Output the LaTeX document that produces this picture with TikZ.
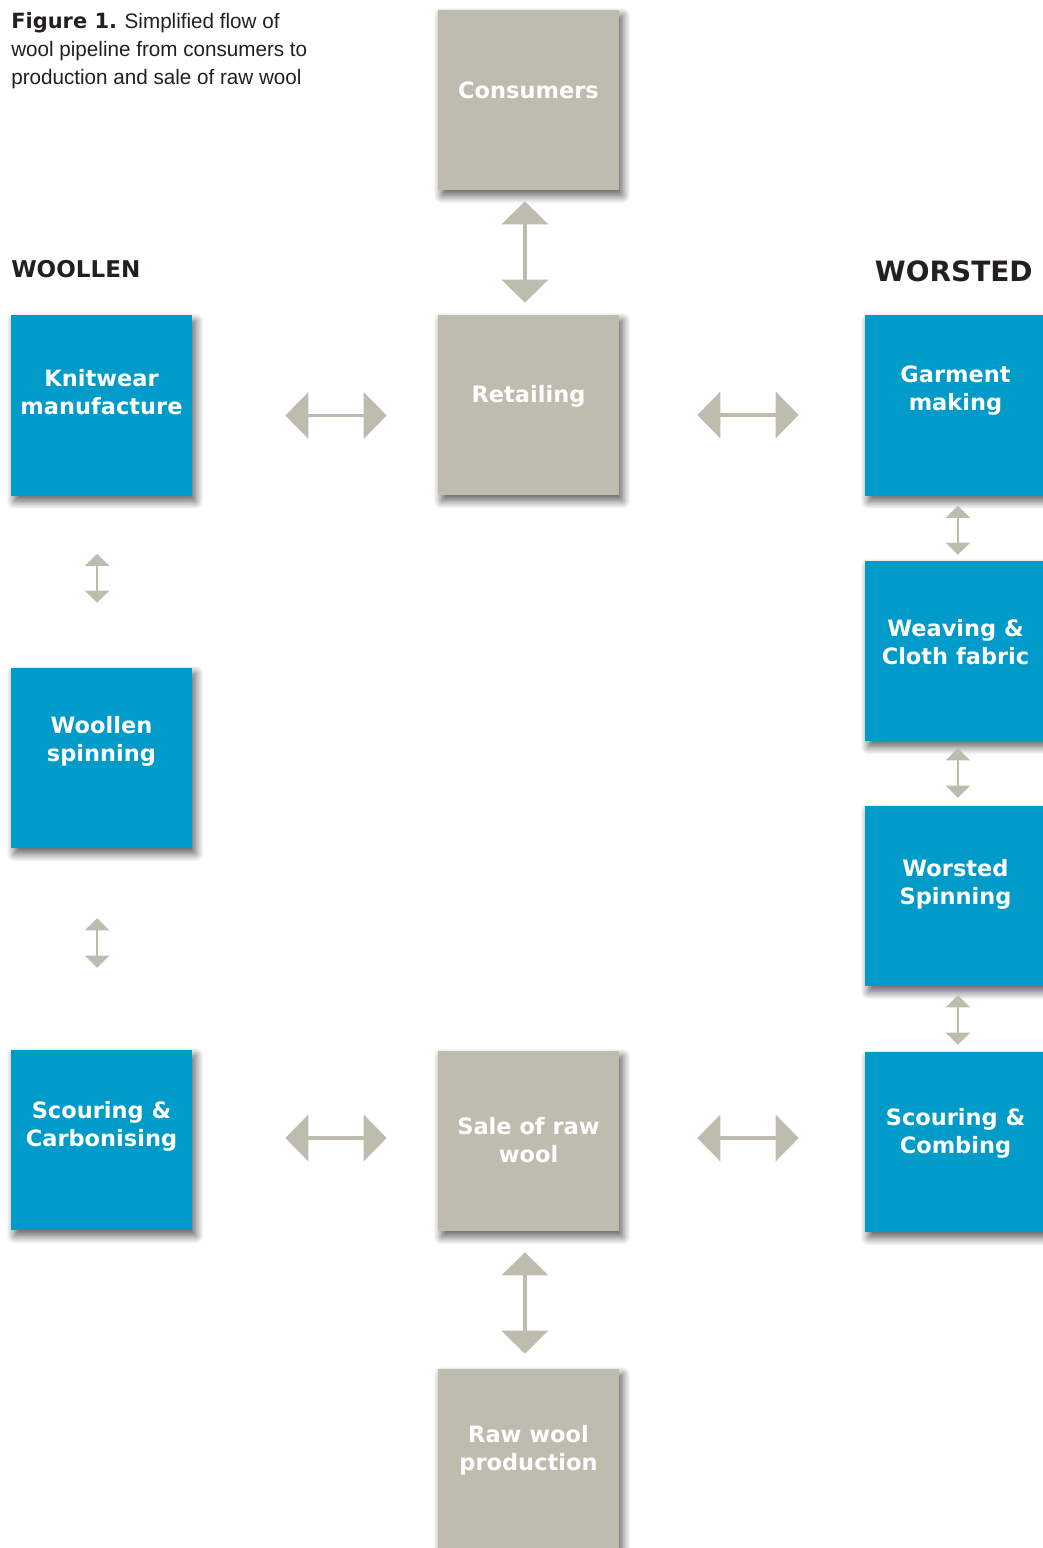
\documentclass[tikz,border=0pt]{standalone}
\usepackage{fontspec}
\usetikzlibrary{arrows.meta,shadows.blur}
\setmainfont{Liberation Sans}[FakeStretch=0.985]
\newfontfamily\heavyfont{DejaVu Sans}

\definecolor{boxgrey}{HTML}{BEBCAF}
\definecolor{boxblue}{HTML}{009BC8}
\definecolor{inkdark}{HTML}{231F20}

\tikzset{
  stage/.style={minimum width=4.525cm, minimum height=4.5cm, inner sep=0pt,
    blur shadow={shadow xshift=0.09cm, shadow yshift=-0.14cm,
      shadow blur radius=0.2cm, shadow blur steps=12, shadow opacity=65}},
  greystage/.style={stage, fill=boxgrey},
  bluestage/.style={stage, fill=boxblue},
  stagetext/.style={align=center, text=white, inner sep=0pt,
    font=\heavyfont\bfseries\fontsize{16}{19.9}\selectfont},
  bigarrow/.style={draw=boxgrey, line width=0.1cm,
    {Triangle[width=1.15cm,length=0.575cm]}-{Triangle[width=1.15cm,length=0.575cm]}},
  sidearrow/.style={draw=boxgrey, line width=0.09cm,
    {Triangle[width=1.15cm,length=0.575cm]}-{Triangle[width=1.15cm,length=0.575cm]}},
  smallarrow/.style={draw=boxgrey, line width=0.06cm,
    {Triangle[width=0.6cm,length=0.3cm]}-{Triangle[width=0.6cm,length=0.3cm]}}
}

\begin{document}
\begin{tikzpicture}[x=0.025cm, y=-0.025cm]

\useasboundingbox (0,0) rectangle (1043,1548); % page

% Caption and column headings
\node[anchor=north west, align=left, inner sep=0pt, text=inkdark,
  font=\fontsize{14.9}{19.9}\selectfont] (caption) at (11,12)
  {{\heavyfont\bfseries Figure 1.} Simplified flow of\\wool pipeline from consumers to\\production and sale of raw wool};
\node[anchor=base west, inner sep=0pt, text=inkdark,
  font=\heavyfont\bfseries\fontsize{16.4}{20}\selectfont] (woollen) at (11,277) {WOOLLEN};
\node[anchor=base east, inner sep=0pt, text=inkdark,
  font=\heavyfont\bfseries\fontsize{19.9}{24}\selectfont] (worsted) at (1033,281) {WORSTED};

% Middle column - trade
\node[greystage, label={[stagetext, yshift=0.25cm]center:Consumers}] (cons) at (528.5,100) {};
\node[greystage, label={[stagetext, yshift=0.225cm]center:Retailing}] (retail) at (528.5,405) {};
\node[greystage, label={[stagetext, yshift=0.03cm]center:{Sale of raw\\wool}}] (sale) at (528.5,1141) {};
\node[greystage, label={[stagetext, yshift=0.225cm]center:{Raw wool\\production}}] (raw) at (528.5,1459) {};

% Left column - woollen
\node[bluestage, label={[stagetext, yshift=0.33cm]center:{Knitwear\\manufacture}}] (knit) at (101.5,405.5) {};
\node[bluestage, label={[stagetext, yshift=0.42cm]center:{Woollen\\spinning}}] (wspin) at (101.5,758) {};
\node[bluestage, label={[stagetext, yshift=0.35cm]center:{Scouring \&\\Carbonising}}] (carb) at (101.5,1140) {};

% Right column - worsted
\node[bluestage, label={[stagetext, yshift=0.38cm]center:{Garment\\making}}] (garm) at (955.5,405.5) {};
\node[bluestage, label={[stagetext, yshift=0.22cm]center:{Weaving \&\\Cloth fabric}}] (weave) at (955.5,651) {};
\node[bluestage, label={[stagetext, yshift=0.28cm]center:{Worsted\\Spinning}}] (worst) at (955.5,896) {};
\node[bluestage, label={[stagetext, yshift=0.22cm]center:{Scouring \&\\Combing}}] (comb) at (955.5,1142) {};

% Vertical links in the middle
\draw[bigarrow, shorten <=0.275cm, shorten >=0.3cm]
  ([xshift=-0.09cm]cons.south) -- ([xshift=-0.09cm]retail.north);
\draw[bigarrow, shorten <=0.525cm, shorten >=0.375cm]
  ([xshift=-0.09cm]sale.south) -- ([xshift=-0.09cm]raw.north);

% Horizontal links
\draw[sidearrow, shorten <=2.325cm, shorten >=1.275cm]
  ([yshift=-0.25cm]knit.east) -- ([yshift=-0.25cm]knit.east -| retail.west);
\draw[sidearrow, shorten <=1.95cm, shorten >=1.65cm]
  ([yshift=-0.25cm]retail.east) -- ([yshift=-0.25cm]retail.east -| garm.west);
\draw[sidearrow, shorten <=2.325cm, shorten >=1.275cm]
  ([yshift=0.05cm]carb.east) -- ([yshift=0.05cm]carb.east -| sale.west);
\draw[sidearrow, shorten <=1.95cm, shorten >=1.65cm]
  ([yshift=0.075cm]sale.east) -- ([yshift=0.075cm]sale.east -| comb.west);

% Small links down the woollen side
\draw[smallarrow, shorten <=1.45cm, shorten >=1.625cm]
  ([xshift=-0.11cm]knit.south) -- ([xshift=-0.11cm]wspin.north);
\draw[smallarrow, shorten <=1.75cm, shorten >=2.05cm]
  ([xshift=-0.11cm]wspin.south) -- ([xshift=-0.11cm]carb.north);

% Small links down the worsted side
\draw[smallarrow, shorten <=0.25cm, shorten >=0.15cm]
  ([xshift=0.06cm]garm.south) -- ([xshift=0.06cm]weave.north);
\draw[smallarrow, shorten <=0.175cm, shorten >=0.2cm]
  ([xshift=0.06cm]weave.south) -- ([xshift=0.06cm]worst.north);
\draw[smallarrow, shorten <=0.225cm, shorten >=0.175cm]
  ([xshift=0.06cm]worst.south) -- ([xshift=0.06cm]comb.north);

\end{tikzpicture}
\end{document}
